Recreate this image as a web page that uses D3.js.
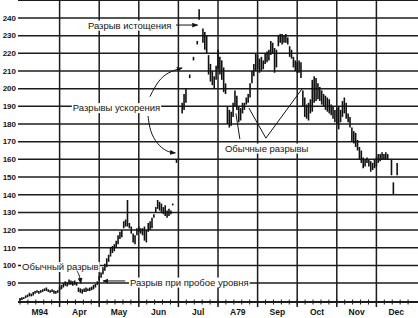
<!DOCTYPE html>
<html>
<head>
<meta charset="utf-8">
<script src="https://cdn.jsdelivr.net/npm/d3@7"></script>
<style>
  body { margin: 0; background: #fff; }
  svg { display: block; }
  text { font-family: "Liberation Sans", Arial, sans-serif; fill: #151515; }
</style>
</head>
<body>
<div id="container"></div>
<script>
// month labels as printed under the chart
var months = ["M94", "Apr", "May", "Jun", "Jul", "A79", "Sep", "Oct", "Nov", "Dec"];
var daysPerMonth = 21;
var yTicks = [90, 100, 110, 120, 130, 140, 150, 160, 170, 180, 190, 200, 210, 220, 230, 240];

// daily bars: [trading day, high, low]
var bars = [
  [0,81.5,80],[1,82,80.5],[2,82,81],[3,83,81.5],[4,83.5,82],[5,84.5,82.5],[6,84,82.5],[7,85,83],
  [8,85.5,84],[9,86,84.5],[10,85.5,84],[11,86,84.5],[12,86.5,85],[13,87,85.5],[14,87.5,85.5],
  [15,86.5,85],[16,86,84.5],[17,86.5,85],[18,86,84],[19,85.5,84],[20,86,84.5],
  [21,88,86],[22,89,86.5],[23,90,87.5],[24,91,88.5],[25,90.5,88],[26,92,89],[27,91.5,89],
  [28,91,88.5],[29,91.5,89],[30,90.5,88.5],[31,87.5,85],[32,87,84.5],[33,86.5,84],[34,87,85],
  [35,87.5,85],[36,87,85.5],[37,87.5,85.5],[38,88,86],[39,89,86.5],[40,89.5,87.5],[41,91,89],
  [42,94,91.5],[43,96,93],[44,99,95],[45,101,97],[46,104,99],[47,106,102],[48,110,105],
  [49,111,107],[50,112,108],[51,114,110],[52,117,112],[53,119,115],[54,120,116],[55,125,121],
  [56,126,122],[57,137,122],[58,124,121],[59,122,118],[60,118,113],[61,117,112],[62,121,117],
  [63,122,119],[64,121,118],[65,121,117],[66,122,114],[67,120,113],[68,124,119],[69,125,120],
  [70,127,121],[71,129,127],[72,133,130],[73,137,132],[74,136,131],[75,135,130],[76,133,129],
  [77,134,128],[78,131,127],[79,132,128],[80,131,129],[81,135,134],[83,160,158],
  [86,192,186],[87,197,188],[88,200,192],[90,208,206],[92,218,216],[94,227,225],[95,245,239],
  [97,234,226],[98,232,222],[99,230,220],[100,219,208],[101,214,204],[102,210,202],[103,207,200],
  [104,213,205],
  [105,222,211],[106,218,208],[107,216,205],[108,212,198],[109,203,197],[110,190,180],[111,188,178],
  [112,187,179],[113,192,184],[114,199,190],[115,196,188],[116,190,181],[117,189,182],[118,192,186],
  [119,192,188],[120,195,191],[121,197,192],[122,203,195],[123,210,203],[124,214,207],[125,220,210],
  [126,219,211],[127,217,209],[128,218,210],[129,216,211],[130,220,214],[131,221,215],[132,222,216],
  [133,227,219],[134,226,220],[135,223,209],[136,222,212],[137,230,224],[138,231,226],[139,231,225],
  [140,230,226],[141,231,226],[142,229,225],[143,224,218],[144,222,217],[145,218,212],[146,216,210],
  [147,215,209],[148,216,209],[149,215,206],[150,199,190],[151,195,184],[152,191,183],[153,192,182],
  [154,194,186],[155,205,187],[156,207,192],[157,206,193],[158,203,194],[159,201,193],[160,199,191],
  [161,197,190],[162,196,188],[163,195,187],[164,194,186],[165,191,185],[166,190,183],[167,188,181],
  [168,189,180],[169,190,177],[170,188,181],[171,193,184],[172,195,186],[173,192,183],[174,186,181],
  [175,184,178],[176,178,170],[177,176,169],[178,175,167],[179,171,165],[180,167,160],[181,165,158],
  [182,161,155],[183,160,156],[184,161,158],[185,160,156],[186,159,153],[187,158,154],[188,160,155],
  [189,161,156],[190,163,158],[191,163,159],[192,164,160],[193,163,160],[194,164,160],[195,163,160],
  [197,160,151],[198,147,140],[200,158,151]
];

// annotation texts, placed at [day, price] of the left end of the baseline
var labels = [
  {text: "Разрыв истощения", at: [36, 234]},
  {text: "Разрывы ускорения", at: [28, 187.3]},
  {text: "Обычные разрывы", at: [108.7, 164.4]},
  {text: "Обычный разрыв", at: [1.1, 97.4]},
  {text: "Разрыв при пробое уровня", at: [58.3, 88.6]}
];

// leader lines, in [day, price]
var arrows = [
  [[82.7, 236], [94.2, 236]],
  [[68.9, 195.5], [73.2, 204.5], [78.5, 209.4], [86, 211.7]],
  [[67.9, 184.5], [68.9, 176], [72.6, 168.7], [77.9, 164.2], [82.4, 163.6]],
  [[30.2, 97], [31.7, 94], [32.3, 89.8]],
  [[55.8, 91.2], [44, 91.2]]
];
var leaders = [
  [[116.6, 171.5], [114.5, 186]],
  [[121.4, 189], [130.4, 172], [149.5, 199.8]]
];

var width = 418, height = 318;

var svg = d3.select("#container").append("svg")
  .attr("width", width)
  .attr("height", height);

var x = d3.scaleLinear().domain([0, months.length * daysPerMonth]).range([20, 416]);
var y = d3.scaleLinear().domain([79.3, 250]).range([302, 0.3]);

svg.append("defs").append("marker")
  .attr("id", "head")
  .attr("viewBox", "0 0 10 10")
  .attr("refX", 9).attr("refY", 5)
  .attr("markerWidth", 6).attr("markerHeight", 6)
  .attr("orient", "auto")
  .append("path")
  .attr("d", "M0,1 L10,5 L0,9 Z")
  .attr("fill", "#151515");

// grid
var grid = svg.append("g").attr("stroke", "#1c1c1c");
grid.selectAll(".h")
  .data(yTicks.concat([250]))
  .enter().append("line")
  .attr("x1", 18).attr("x2", width)
  .attr("y1", d => y(d)).attr("y2", d => y(d))
  .attr("stroke-width", 1.5);

grid.selectAll(".v")
  .data(d3.range(1, months.length))
  .enter().append("line")
  .attr("x1", d => x(d * daysPerMonth)).attr("x2", d => x(d * daysPerMonth))
  .attr("y1", 0).attr("y2", y(79.3) + 5)
  .attr("stroke-width", 1.5);

// bottom axis with weekly ticks
var xAxis = svg.append("g").attr("transform", "translate(0," + y(79.3) + ")");
xAxis.append("line")
  .attr("x1", 18).attr("x2", width)
  .attr("stroke", "#1c1c1c").attr("stroke-width", 1.8);
xAxis.selectAll(".wk")
  .data(d3.range(0, months.length * 5))
  .enter().append("line")
  .attr("x1", d => x(d * daysPerMonth / 5)).attr("x2", d => x(d * daysPerMonth / 5))
  .attr("y1", -2.5).attr("y2", 2.5)
  .attr("stroke", "#1c1c1c").attr("stroke-width", 1);

xAxis.selectAll(".mon")
  .data(months)
  .enter().append("text")
  .attr("x", (d, i) => x(i * daysPerMonth + daysPerMonth / 2))
  .attr("y", 12.5)
  .attr("text-anchor", "middle")
  .style("font-size", "8.5px")
  .style("font-weight", "bold")
  .text(d => d);

svg.append("g").selectAll("text")
  .data(yTicks)
  .enter().append("text")
  .attr("x", 16)
  .attr("y", d => y(d))
  .attr("dy", "0.35em")
  .attr("text-anchor", "end")
  .style("font-size", "8px")
  .style("font-weight", "bold")
  .text(d => d);

// price bars
svg.append("g").selectAll("line")
  .data(bars)
  .enter().append("line")
  .attr("x1", d => x(d[0])).attr("x2", d => x(d[0]))
  .attr("y1", d => y(d[1])).attr("y2", d => y(d[2]))
  .attr("stroke", "#111")
  .attr("stroke-width", 1.6);

// annotations
var line = d3.line().x(d => x(d[0])).y(d => y(d[1])).curve(d3.curveBasis);
var straight = d3.line().x(d => x(d[0])).y(d => y(d[1]));

labels.forEach(function (l) {
  var g = svg.append("g");
  var t = g.append("text")
    .attr("x", x(l.at[0]))
    .attr("y", y(l.at[1]))
    .style("font-size", "9.5px")
    .text(l.text);
  var b = t.node().getBBox();
  g.insert("rect", "text")
    .attr("x", b.x - 1).attr("y", b.y + 1)
    .attr("width", b.width + 2).attr("height", b.height - 1)
    .attr("fill", "#fff");
});

svg.append("g").selectAll("path")
  .data(arrows)
  .enter().append("path")
  .attr("d", d => line(d))
  .attr("fill", "none")
  .attr("stroke", "#151515")
  .attr("stroke-width", 1)
  .attr("marker-end", "url(#head)");

svg.append("g").selectAll("path")
  .data(leaders)
  .enter().append("path")
  .attr("d", d => straight(d))
  .attr("fill", "none")
  .attr("stroke", "#151515")
  .attr("stroke-width", 1);
</script>
</body>
</html>
